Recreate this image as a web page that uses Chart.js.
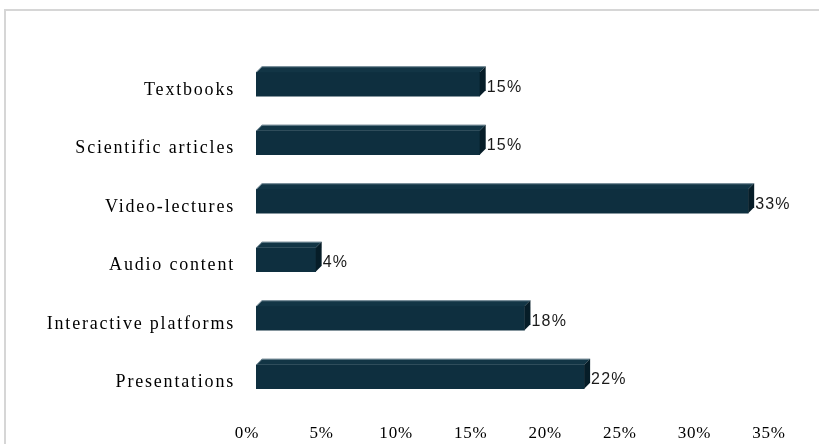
<!DOCTYPE html>
<html>
<head>
<meta charset="utf-8">
<script src="https://cdn.jsdelivr.net/npm/chart.js@4.4.1/dist/chart.umd.min.js"></script>
<style>
  html, body { margin: 0; padding: 0; background: #ffffff; }
  #wrap { width: 819px; height: 444px; position: relative; }
</style>
</head>
<body>
<div id="wrap"><canvas id="c" width="819" height="444"></canvas></div>
<script>
const categories = ["Textbooks", "Scientific articles", "Video-lectures", "Audio content", "Interactive platforms", "Presentations"];
const shares = [15, 15, 33, 4, 18, 22];
const valueLabels = ["15%", "15%", "33%", "4%", "18%", "22%"];
const xTickValues = [0, 5, 10, 15, 20, 25, 30, 35];

const DEPTH = 6;

function spaced(axis, spacing) {
  if (axis._spacedWrapped) return;
  axis._spacedWrapped = true;
  const orig = axis.drawLabels;
  axis.drawLabels = function (area) {
    const ctx = this.ctx;
    ctx.save();
    ctx.letterSpacing = spacing;
    orig.call(this, area);
    ctx.restore();
  };
}

const framePlugin = {
  id: 'frame',
  beforeDraw(chart) {
    const ctx = chart.ctx;
    ctx.save();
    ctx.fillStyle = '#ffffff';
    ctx.fillRect(0, 0, chart.width, chart.height);
    ctx.strokeStyle = '#d6d6d6';
    ctx.lineWidth = 2;
    ctx.strokeRect(5, 10, 840, 500);
    ctx.restore();
  }
};

const bar3dPlugin = {
  id: 'bar3d',
  afterDatasetsDraw(chart) {
    const ctx = chart.ctx;
    const meta = chart.getDatasetMeta(0);
    ctx.save();
    meta.data.forEach((el, i) => {
      const p = el.getProps(['x', 'y', 'base', 'height'], true);
      const top = p.y - p.height / 2;
      const bottom = p.y + p.height / 2;
      const d = DEPTH;
      // top face
      ctx.beginPath();
      ctx.moveTo(p.base, top);
      ctx.lineTo(p.base + d, top - d);
      ctx.lineTo(p.x + d, top - d);
      ctx.lineTo(p.x, top);
      ctx.closePath();
      ctx.fillStyle = '#123545';
      ctx.fill();
      // highlight line on top edge
      ctx.beginPath();
      ctx.moveTo(p.base + 0.5, top);
      ctx.lineTo(p.base + d, top - d + 0.5);
      ctx.lineTo(p.x + d, top - d + 0.5);
      ctx.strokeStyle = 'rgba(180,195,205,0.6)';
      ctx.lineWidth = 1;
      ctx.stroke();
      // side face
      ctx.beginPath();
      ctx.moveTo(p.x, top);
      ctx.lineTo(p.x + d, top - d);
      ctx.lineTo(p.x + d, bottom - d);
      ctx.lineTo(p.x, bottom);
      ctx.closePath();
      ctx.fillStyle = '#061d28';
      ctx.fill();
      // value label
      ctx.fillStyle = '#1a1a1a';
      ctx.letterSpacing = '1.2px';
      ctx.font = '16px "Liberation Sans", Arial, sans-serif';
      ctx.textAlign = 'left';
      ctx.textBaseline = 'middle';
      ctx.fillText(valueLabels[i], p.x + d + 1, p.y + 3);
    });
    ctx.restore();
  }
};

new Chart(document.getElementById('c'), {
  type: 'bar',
  data: {
    labels: categories,
    datasets: [{
      data: shares,
      backgroundColor: '#0e2f3f',
      borderWidth: 0,
      barThickness: 24
    }]
  },
  options: {
    indexAxis: 'y',
    responsive: false,
    animation: false,
    devicePixelRatio: 1,
    layout: { padding: { top: 55, right: 41, bottom: 0, left: 0 } },
    plugins: {
      legend: { display: false },
      tooltip: { enabled: false }
    },
    scales: {
      x: {
        min: 0,
        max: 35,
        afterBuildTicks(axis) { axis.ticks = xTickValues.map(v => ({ value: v })); },
        afterFit(axis) { axis.height = 38; spaced(axis, '0.8px'); },
        grid: { display: false, drawTicks: false },
        border: { display: false },
        ticks: {
          padding: 17,
          labelOffset: -9,
          color: '#000000',
          font: { family: '"Liberation Serif", "Times New Roman", serif', size: 17 },
          callback: (v) => v + '%'
        }
      },
      y: {
        afterFit(axis) { axis.width = 256; spaced(axis, '1.8px'); },
        grid: { display: false, drawTicks: false },
        border: { display: false },
        ticks: {
          padding: 21,
          labelOffset: 6,
          color: '#000000',
          font: { family: '"Liberation Serif", "Times New Roman", serif', size: 18 }
        }
      }
    }
  },
  plugins: [framePlugin, bar3dPlugin]
});
</script>
</body>
</html>
